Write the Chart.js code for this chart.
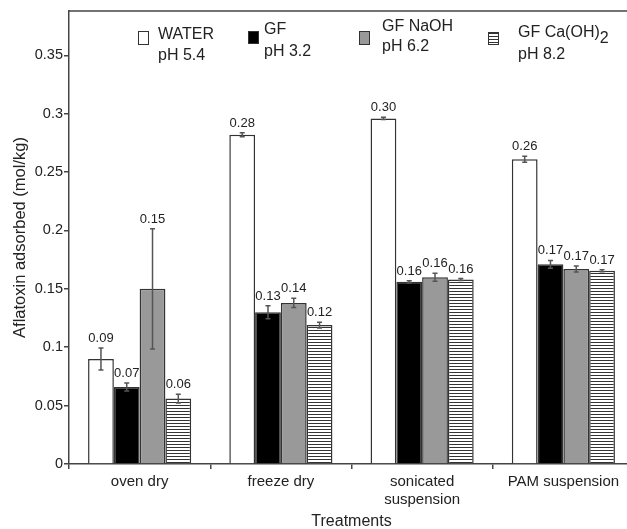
<!DOCTYPE html>
<html>
<head>
<meta charset="utf-8">
<script src="https://cdn.jsdelivr.net/npm/chart.js@4.4.1/dist/chart.umd.min.js"></script>
<style>
  html, body { margin: 0; padding: 0; background: #fff; overflow: hidden; }
  #wrap { width: 634px; height: 529px; }
</style>
</head>
<body>
<div id="wrap"><canvas id="chart"></canvas></div>
<script>
// categories and series values
const categories = [["oven dry"], ["freeze dry"], ["sonicated", "suspension"], ["PAM suspension"]];
const seriesNames = ["WATER pH 5.4", "GF pH 3.2", "GF NaOH pH 6.2", "GF Ca(OH)2 pH 8.2"];

const waterVals = [0.090, 0.282, 0.296, 0.261];
const waterErr = [0.0094, 0.0017, 0.0009, 0.0026];
const gfVals = [0.066, 0.130, 0.156, 0.171];
const gfErr = [0.0034, 0.0056, 0.0009, 0.0034];
const naohVals = [0.150, 0.138, 0.160, 0.167];
const naohErr = [0.0514, 0.0040, 0.0034, 0.0026];
const caVals = [0.056, 0.119, 0.158, 0.1655];
const caErr = [0.0038, 0.0025, 0.0009, 0.0009];

const yTicks = [0, 0.05, 0.1, 0.15, 0.2, 0.25, 0.3, 0.35];
const yTickLabels = ["0", "0.05", "0.1", "0.15", "0.2", "0.25", "0.3", "0.35"];

const FONT = "'Liberation Sans', Arial, sans-serif";

// horizontal line hatch
function hatch() {
    const c = document.createElement('canvas');
    c.width = 4; c.height = 3;
    const g = c.getContext('2d');
    g.fillStyle = '#fff';
    g.fillRect(0, 0, 4, 3);
    g.fillStyle = '#333';
    g.fillRect(0, 0, 4, 1);
    return g.createPattern(c, 'repeat');
}
const hatchFill = hatch();

const errors = [waterErr, gfErr, naohErr, caErr];

const errorBarsPlugin = {
    id: 'errorBars',
    afterDatasetsDraw(chart) {
        const ctx = chart.ctx;
        const y = chart.scales.y;
        ctx.save();
        chart.data.datasets.forEach((ds, i) => {
            const meta = chart.getDatasetMeta(i);
            meta.data.forEach((bar, j) => {
                const v = ds.data[j];
                const e = errors[i][j];
                const yTop = y.getPixelForValue(v + e);
                const yBot = y.getPixelForValue(v - e);
                ctx.strokeStyle = '#555';
                ctx.lineWidth = 1.5;
                ctx.beginPath();
                ctx.moveTo(bar.x, yTop); ctx.lineTo(bar.x, yBot);
                ctx.moveTo(bar.x - 2.5, yTop); ctx.lineTo(bar.x + 2.5, yTop);
                ctx.moveTo(bar.x - 2.5, yBot); ctx.lineTo(bar.x + 2.5, yBot);
                ctx.stroke();
                ctx.fillStyle = '#222';
                ctx.font = '13px ' + FONT;
                ctx.textAlign = 'center';
                ctx.textBaseline = 'bottom';
                ctx.fillText(v.toFixed(2), bar.x, yTop - 3);
            });
        });
        ctx.restore();
    }
};

const framePlugin = {
    id: 'frame',
    afterDraw(chart) {
        const ctx = chart.ctx;
        const a = chart.chartArea;
        ctx.save();
        ctx.strokeStyle = '#444';
        ctx.lineWidth = 1.5;
        ctx.beginPath();
        ctx.moveTo(a.left, a.top);
        ctx.lineTo(chart.width, a.top);
        ctx.stroke();
        ctx.restore();
    }
};

// legend drawn by hand (two line labels, subscript)
const legendPlugin = {
    id: 'customLegend',
    afterDraw(chart) {
        const ctx = chart.ctx;
        const a = chart.chartArea;
        const items = [
            { dx: 69, box: [31, 13], tx: 89, l1: 35, l2: 56, t1: "WATER", t2: "pH 5.4" },
            { dx: 179, box: [31, 12], tx: 195, l1: 30, l2: 52, t1: "GF", t2: "pH 3.2" },
            { dx: 290, box: [31, 13], tx: 313, l1: 27, l2: 47, t1: "GF NaOH", t2: "pH 6.2" },
            { dx: 419, box: [32, 12], tx: 449, l1: 33, l2: 55, t1: "GF Ca(OH)", t2: "pH 8.2", sub: "2" }
        ];
        ctx.save();
        items.forEach((it, i) => {
            const ds = chart.data.datasets[i];
            const x = a.left + it.dx;
            ctx.fillStyle = ds.backgroundColor;
            ctx.fillRect(x, it.box[0], 10, it.box[1]);
            ctx.strokeStyle = '#333';
            ctx.lineWidth = 1;
            ctx.strokeRect(x + 0.5, it.box[0] + 0.5, 10, it.box[1]);
            ctx.fillStyle = '#222';
            ctx.font = '16px ' + FONT;
            ctx.textAlign = 'left';
            ctx.textBaseline = 'middle';
            const tx = a.left + it.tx;
            ctx.fillText(it.t1, tx, it.l1);
            ctx.fillText(it.t2, tx, it.l2);
            if (it.sub) {
                const w = ctx.measureText(it.t1).width;
                ctx.fillText(it.sub, tx + w, it.l1 + 6);
            }
        });
        ctx.restore();
    }
};

new Chart(document.getElementById('chart'), {
    type: 'bar',
    data: {
        labels: categories,
        datasets: [
            { label: seriesNames[0], data: waterVals, backgroundColor: '#ffffff' },
            { label: seriesNames[1], data: gfVals, backgroundColor: '#000000' },
            { label: seriesNames[2], data: naohVals, backgroundColor: '#999999' },
            { label: seriesNames[3], data: caVals, backgroundColor: hatchFill }
        ]
    },
    options: {
        responsive: true,
        maintainAspectRatio: false,
        animation: false,
        layout: { padding: { top: 11, left: 0, right: 0, bottom: 0 } },
        datasets: {
            bar: {
                borderColor: '#333',
                borderWidth: 1.5,
                categoryPercentage: 0.73,
                barPercentage: 1
            }
        },
        plugins: {
            legend: { display: false },
            tooltip: { enabled: false }
        },
        scales: {
            x: {
                grid: { display: true, drawOnChartArea: false, drawTicks: true, tickLength: 5, color: '#444', lineWidth: 1.5 },
                border: { color: '#444', width: 1.5 },
                ticks: { color: '#222', font: { family: FONT, size: 15 }, padding: 4, maxRotation: 0, autoSkip: false },
                title: { display: true, text: 'Treatments', color: '#222', font: { family: FONT, size: 16, lineHeight: '14px' }, padding: { top: 0, bottom: 0 } },
                afterFit(scale) { scale.height = 65; }
            },
            y: {
                min: 0,
                max: 0.388,
                grid: { display: true, drawOnChartArea: false, drawTicks: true, tickLength: 5, color: '#444', lineWidth: 1.5 },
                border: { color: '#444', width: 1.5 },
                ticks: {
                    color: '#222',
                    font: { family: FONT, size: 14.5 },
                    padding: 1,
                    callback: (v, i) => yTickLabels[i]
                },
                afterBuildTicks(scale) { scale.ticks = yTicks.map(v => ({ value: v })); },
                title: { display: true, text: 'Aflatoxin adsorbed (mol/kg)', color: '#222', font: { family: FONT, size: 16.5 }, padding: { top: 11, bottom: 0 } },
                afterFit(scale) { scale.width = 69; }
            }
        }
    },
    plugins: [errorBarsPlugin, framePlugin, legendPlugin]
});
</script>
</body>
</html>
